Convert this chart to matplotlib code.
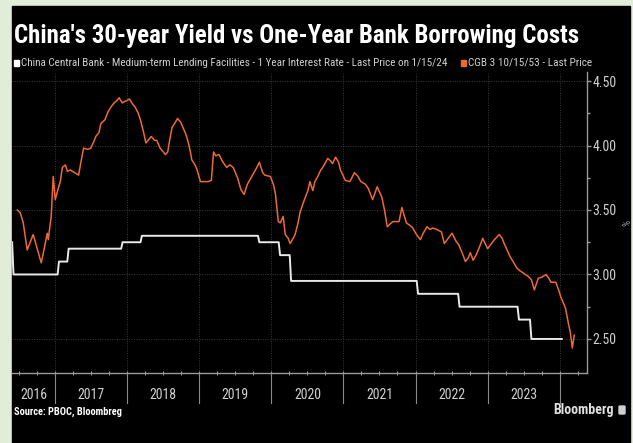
import numpy as np
import pandas as pd
import matplotlib
matplotlib.use('Agg')
import matplotlib.pyplot as plt
from matplotlib.patches import Rectangle, FancyBboxPatch
import matplotlib.transforms as mtransforms

# 30y CGB yield (decimal year, %)
cgb_t = [2016.472, 2016.514, 2016.556, 2016.611, 2016.653, 2016.694, 2016.750, 2016.806, 2016.847,
         2016.889, 2016.903, 2016.944, 2016.972, 2017.000, 2017.028, 2017.070, 2017.099, 2017.141,
         2017.169, 2017.211, 2017.268, 2017.324, 2017.366, 2017.394, 2017.451, 2017.493, 2017.535,
         2017.563, 2017.606, 2017.634, 2017.690, 2017.732, 2017.775, 2017.817, 2017.859, 2017.887,
         2017.930, 2017.958, 2018.000, 2018.030, 2018.076, 2018.106, 2018.152, 2018.182, 2018.227,
         2018.258, 2018.303, 2018.333, 2018.379, 2018.409, 2018.455, 2018.485, 2018.530, 2018.561,
         2018.591, 2018.621, 2018.667, 2018.697, 2018.742, 2018.773, 2018.818, 2018.848, 2018.879,
         2018.894, 2018.939, 2018.970, 2019.015, 2019.061, 2019.121, 2019.167, 2019.197, 2019.227,
         2019.273, 2019.318, 2019.379, 2019.424, 2019.470, 2019.530, 2019.576, 2019.621, 2019.667,
         2019.727, 2019.788, 2019.833, 2019.879, 2019.909, 2019.985, 2020.027, 2020.055, 2020.096,
         2020.123, 2020.164, 2020.192, 2020.233, 2020.260, 2020.301, 2020.329, 2020.370, 2020.397,
         2020.438, 2020.466, 2020.507, 2020.534, 2020.575, 2020.603, 2020.644, 2020.685, 2020.712,
         2020.753, 2020.781, 2020.822, 2020.849, 2020.890, 2020.932, 2020.959, 2021.025, 2021.089,
         2021.152, 2021.203, 2021.241, 2021.304, 2021.342, 2021.405, 2021.468, 2021.532, 2021.570,
         2021.608, 2021.684, 2021.772, 2021.810, 2021.873, 2021.924, 2021.962, 2022.013, 2022.067,
         2022.107, 2022.160, 2022.200, 2022.240, 2022.293, 2022.360, 2022.400, 2022.453, 2022.507,
         2022.560, 2022.600, 2022.653, 2022.693, 2022.733, 2022.760, 2022.800, 2022.840, 2022.893,
         2022.933, 2023.000, 2023.054, 2023.095, 2023.162, 2023.203, 2023.230, 2023.270, 2023.311,
         2023.365, 2023.405, 2023.446, 2023.500, 2023.554, 2023.608, 2023.649, 2023.703, 2023.757,
         2023.811, 2023.851, 2023.878, 2023.946, 2023.986, 2024.014, 2024.081, 2024.122, 2024.149,
         2024.176, 2024.203]
cgb_y = [3.50, 3.48, 3.40, 3.19, 3.25, 3.31, 3.20, 3.09, 3.20,
         3.32, 3.27, 3.45, 3.76, 3.58, 3.64, 3.72, 3.83, 3.85,
         3.80, 3.81, 3.79, 3.77, 3.90, 3.98, 3.97, 3.98, 4.03,
         4.07, 4.10, 4.17, 4.20, 4.26, 4.30, 4.33, 4.35, 4.37,
         4.33, 4.34, 4.35, 4.36, 4.32, 4.30, 4.25, 4.20, 4.10,
         4.02, 4.05, 4.07, 4.04, 4.04, 3.98, 3.96, 3.93, 3.95,
         4.05, 4.14, 4.18, 4.21, 4.18, 4.14, 4.08, 4.02, 3.94,
         3.89, 3.85, 3.81, 3.72, 3.72, 3.72, 3.73, 3.95, 3.92,
         3.93, 3.88, 3.83, 3.85, 3.83, 3.75, 3.66, 3.62, 3.70,
         3.76, 3.82, 3.87, 3.79, 3.77, 3.76, 3.70, 3.63, 3.41,
         3.40, 3.45, 3.31, 3.28, 3.24, 3.28, 3.31, 3.40, 3.48,
         3.55, 3.59, 3.65, 3.72, 3.65, 3.72, 3.76, 3.81, 3.83,
         3.87, 3.90, 3.88, 3.86, 3.91, 3.87, 3.81, 3.73, 3.72,
         3.79, 3.76, 3.72, 3.70, 3.67, 3.58, 3.68, 3.60, 3.50,
         3.37, 3.41, 3.41, 3.52, 3.40, 3.38, 3.36, 3.31, 3.27,
         3.32, 3.37, 3.35, 3.36, 3.35, 3.33, 3.24, 3.28, 3.32,
         3.26, 3.23, 3.16, 3.10, 3.13, 3.17, 3.11, 3.15, 3.22,
         3.28, 3.20, 3.24, 3.27, 3.31, 3.28, 3.24, 3.19, 3.14,
         3.09, 3.05, 3.03, 3.01, 2.99, 2.96, 2.88, 2.97, 2.98,
         3.00, 2.97, 2.94, 2.94, 2.88, 2.83, 2.74, 2.62, 2.55,
         2.43, 2.53]

# MLF 1 year rate, change dates
mlf_dates = ['2016-05-27', '2016-06-03', '2017-01-24', '2017-03-16', '2017-12-14', '2018-03-22',
             '2019-11-05', '2020-02-17', '2020-04-15', '2022-01-17', '2022-08-15', '2023-06-15',
             '2023-08-15', '2024-01-15']
mlf_rates = [3.25, 3.00, 3.10, 3.20, 3.25, 3.30, 3.25, 3.15, 2.95, 2.85, 2.75, 2.65, 2.50, 2.50]

years = [2016, 2017, 2018, 2019, 2020, 2021, 2022, 2023]
x_start, x_end = 2016.40, 2024.38
y_lo, y_hi = 2.236, 4.57

W, H = 633, 443
BG = '#e1edd9'
ORANGE = '#ec6a35'
GREY = '#cfcfcf'
cond = ['Roboto Condensed', 'Asap Condensed', 'DejaVu Sans']


def dec_year(idx):
    return idx.year + (idx.dayofyear - 1) / np.where(idx.is_leap_year, 366, 365)


def fit_width(t, px):
    # scale a text's font size so it spans px pixels
    w = t.get_window_extent(fig.canvas.get_renderer()).width
    t.set_fontsize(t.get_fontsize() * px / w)


mlf = pd.Series(mlf_rates, index=pd.to_datetime(mlf_dates))
mlf = mlf.resample('7D').last().ffill()
mlf_t = dec_year(mlf.index)

fig = plt.figure(figsize=(W / 100, H / 100), dpi=100, facecolor=BG)
fig.patches.append(Rectangle((12 / W, 0), (630 - 12) / W, (H - 6) / H,
                             transform=fig.transFigure, color='black', zorder=-5))

ax = fig.add_axes([12 / W, (H - 373) / H, (587 - 12) / W, (373 - 72) / H])
ax.set_facecolor('black')
ax.plot(mlf_t, mlf.values, color='#e8e8e8', lw=1.4, zorder=3)
ax.plot(cgb_t, cgb_y, color=ORANGE, lw=1.1, zorder=4)

ax.set_xlim(x_start, x_end)
ax.set_ylim(y_lo, y_hi)
for s in ['left', 'top']:
    ax.spines[s].set_visible(False)
for s in ['right', 'bottom']:
    ax.spines[s].set_color('#9a9a9a')
    ax.spines[s].set_linewidth(1.0)

ax.yaxis.tick_right()
ax.set_yticks([2.5, 3.0, 3.5, 4.0, 4.5])
ax.set_yticklabels(['%.2f' % v for v in [2.5, 3.0, 3.5, 4.0, 4.5]], family=cond)
ax.set_yticks([2.75, 3.25, 3.75, 4.25], minor=True)
ax.tick_params(axis='y', which='major', colors='#9a9a9a', labelcolor=GREY,
               length=3, width=1, labelsize=10, pad=1)
ax.tick_params(axis='y', which='minor', colors='#9a9a9a', length=2, width=1)

ax.set_xticks(years[1:] + [2024])
ax.set_xticks(np.arange(2016.5, 2024.4, 0.25), minor=True)
ax.tick_params(axis='x', which='both', direction='inout', length=3, width=0.8,
               colors='#9a9a9a', labelbottom=False)
ax.grid(True, which='major', color='#3a3a3a', lw=0.7, ls=(0, (1, 1.5)))

# year separators and labels below the axis
trans = mtransforms.blended_transform_factory(ax.transData, ax.transAxes)
for yr in years[1:] + [2024]:
    ax.plot([yr, yr], [0, -0.10], transform=trans, clip_on=False, color='#8a8a8a', lw=0.8)
for yr in years:
    mid = (max(yr, x_start) + min(yr + 1, x_end)) / 2
    ax.text(mid, -0.073, str(yr), transform=trans, ha='center', va='center',
            color=GREY, fontsize=10, family=cond)

ax.text(1.07, 0.50, '%', transform=ax.transAxes, rotation=90, ha='center', va='center',
        color='#a0a0a0', fontsize=7, family=cond)

title = fig.text(14 / W, 1 - 43 / H, "China's 30-year Yield vs One-Year Bank Borrowing Costs",
                 color='white', fontsize=16, fontweight='bold', va='baseline', family=cond)
fit_width(title, 563)

# legend row
fig.patches.append(Rectangle((14 / W, 1 - 66 / H), 5 / W, 6 / H, transform=fig.transFigure,
                             color='white'))
leg1 = fig.text(21 / W, 1 - 63 / H,
                'China Central Bank - Medium-term Lending Facilities - 1 Year Interest Rate - Last Price on 1/15/24',
                color=GREY, fontsize=7, va='center', family=cond)
fit_width(leg1, 432)
fig.patches.append(Rectangle((461 / W, 1 - 66 / H), 5 / W, 6 / H, transform=fig.transFigure,
                             color=ORANGE))
leg2 = fig.text(468 / W, 1 - 63 / H, 'CGB 3 10/15/53 - Last Price',
                color=GREY, fontsize=7, va='center', family=cond)
fit_width(leg2, 125)

fig.text(14 / W, 1 - 412 / H, 'Source: PBOC, Bloombreg', color='white', fontsize=7.5,
         fontweight='bold', va='center', family=cond)
fig.text(614 / W, 1 - 410 / H, 'Bloomberg', color='#e0e0e0', fontsize=10,
         fontweight='bold', ha='right', va='center', family=cond)
fig.patches.append(FancyBboxPatch((619 / W, 1 - 414 / H), 6 / W, 8 / H,
                                  boxstyle='round,pad=0,rounding_size=0.002',
                                  transform=fig.transFigure, color='#d0d0d0'))

fig.savefig('out.png', dpi=100, facecolor=BG)
